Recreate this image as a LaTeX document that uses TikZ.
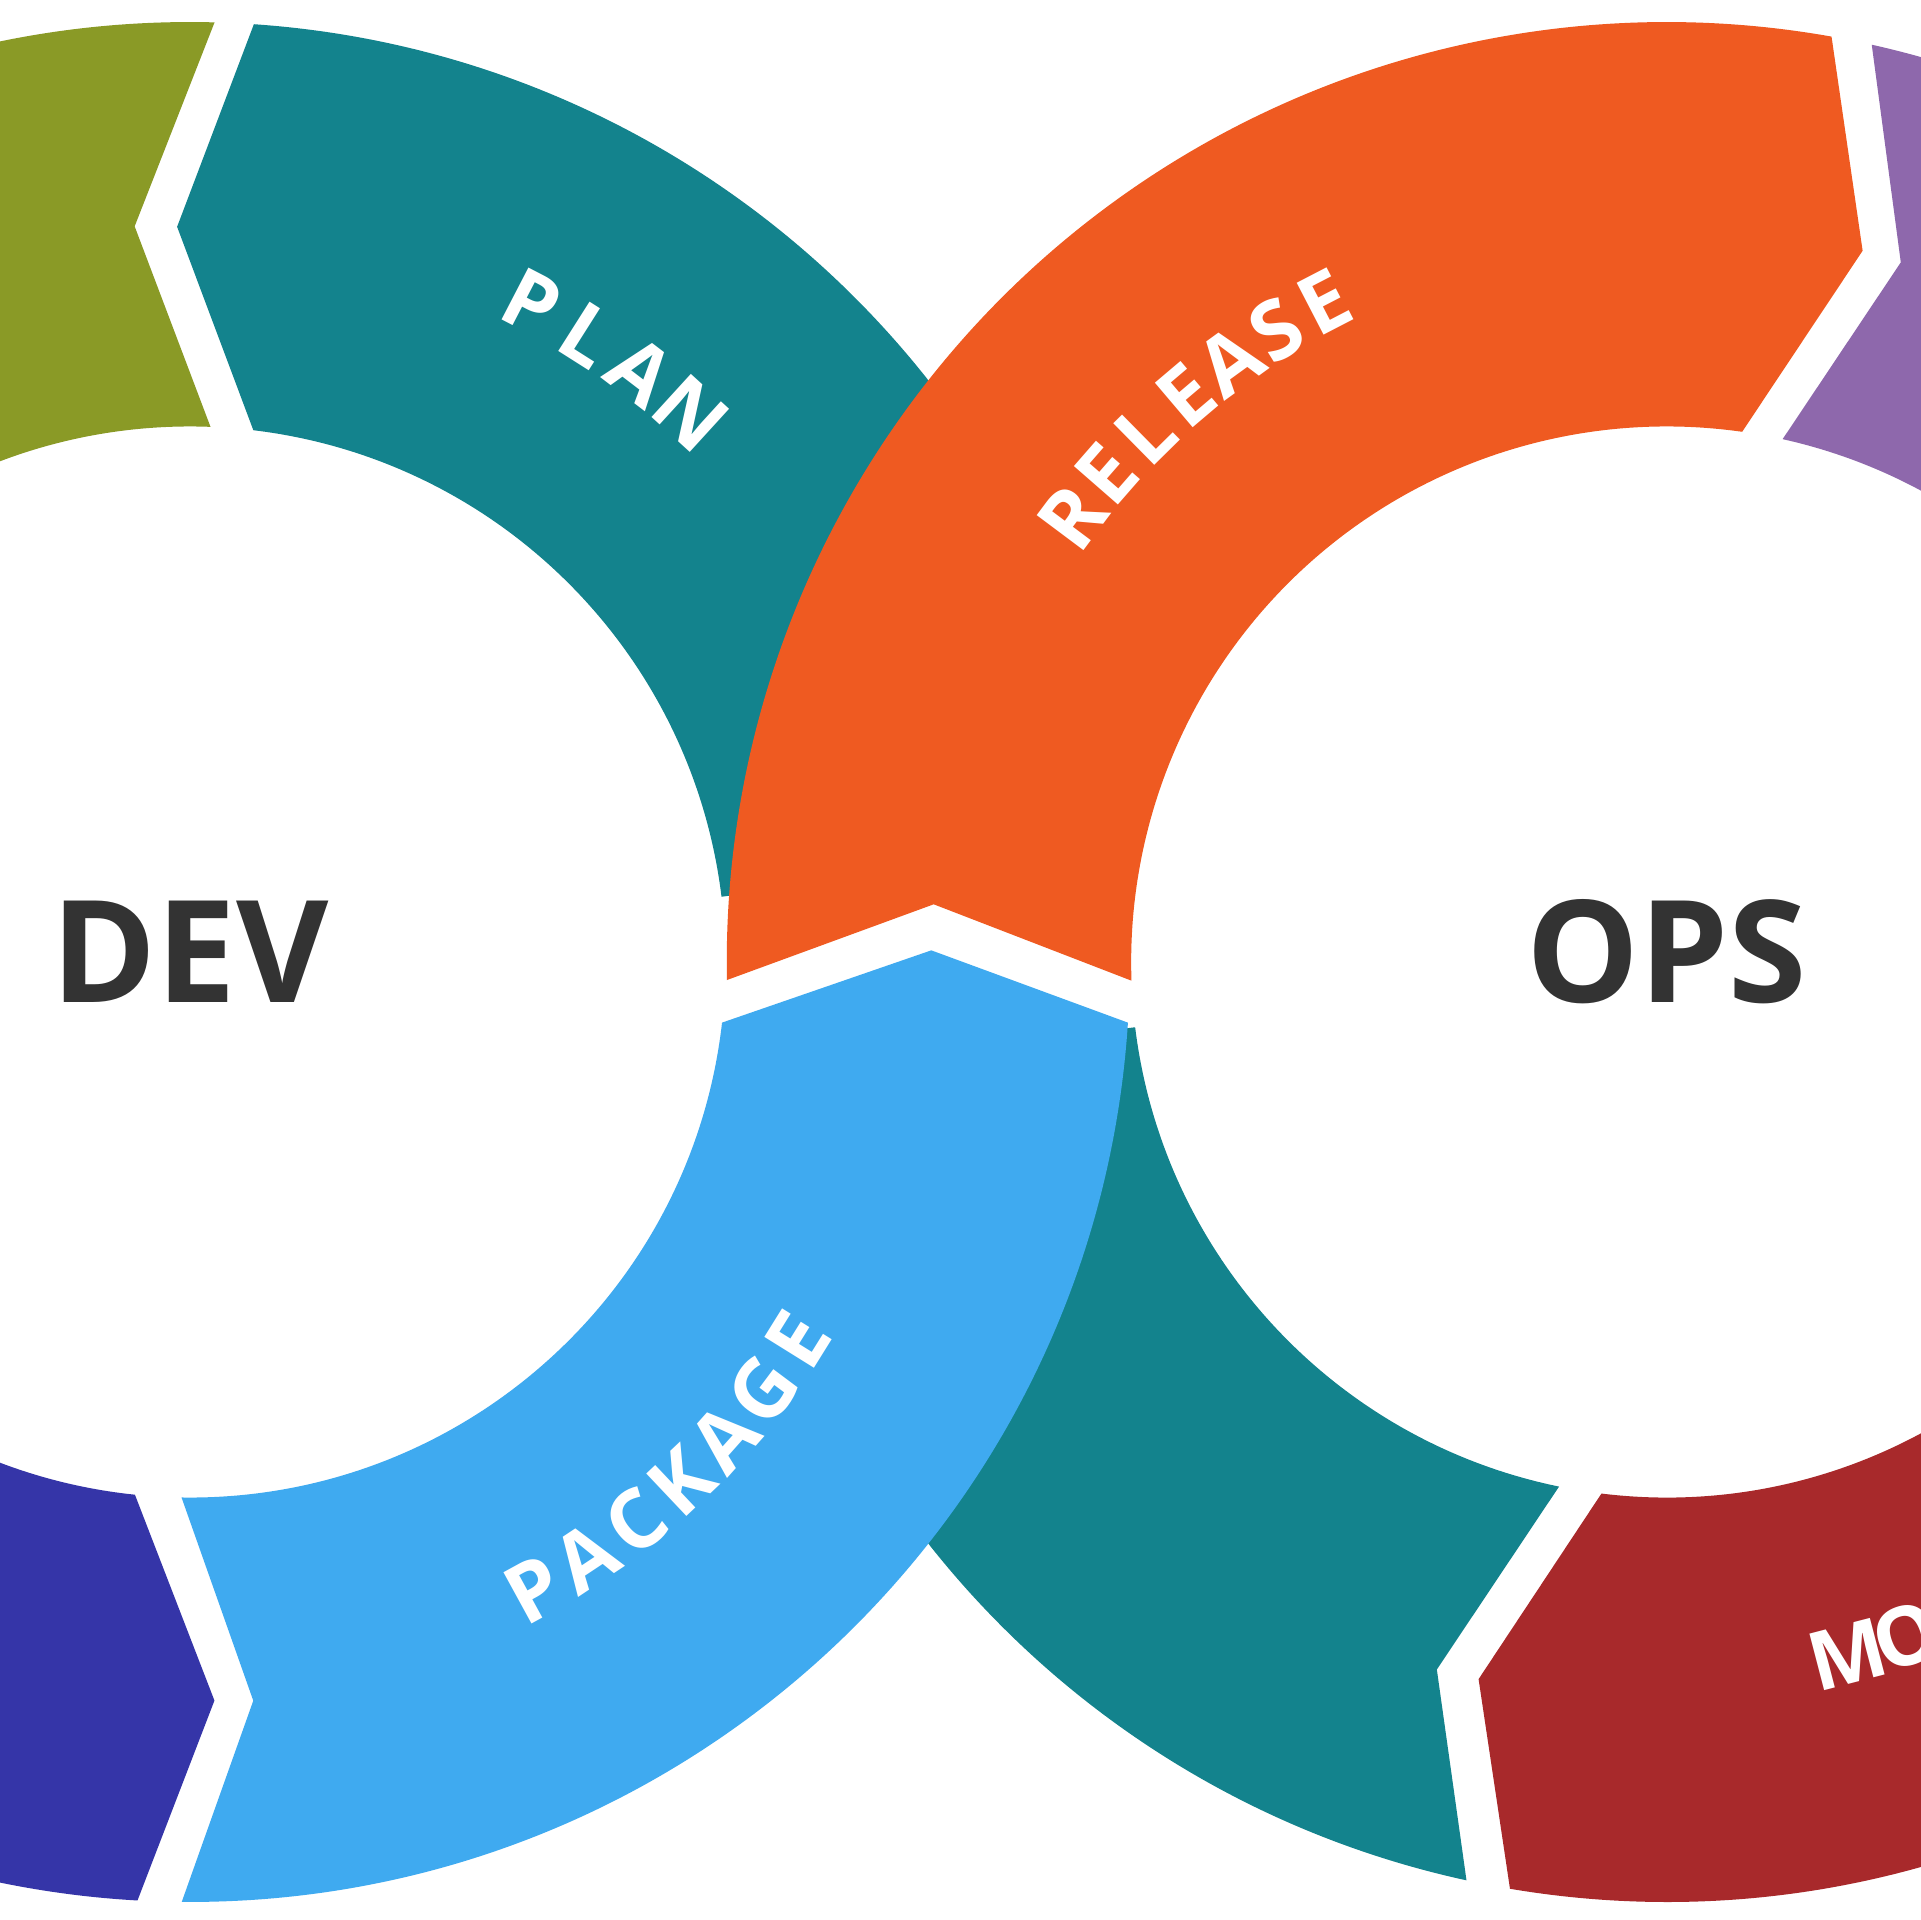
\documentclass[tikz,border=0pt]{standalone}
\usepackage{fontspec}
\setmainfont{Open Sans}
\definecolor{olive}{HTML}{8A9A26}
\definecolor{tealc}{HTML}{13838D}
\definecolor{orangec}{HTML}{EF5A21}
\definecolor{purplec}{HTML}{8E68AC}
\definecolor{bluec}{HTML}{3FAAF0}
\definecolor{indigoc}{HTML}{3535A8}
\definecolor{redc}{HTML}{A8292B}
\definecolor{darkt}{HTML}{333333}
\begin{document}
\begin{tikzpicture}[
  lab/.style={text=white,font=\fontsize{19}{19}\selectfont\bfseries,inner sep=0pt,text height=0.72em,text depth=0pt,anchor=center},
  big/.style={text=darkt,font=\fontsize{33}{33}\selectfont\bfseries,inner sep=0pt,text height=0.72em,text depth=0pt,anchor=center}]
\useasboundingbox (0,3.533) rectangle (15.667,19.2);
\begin{scope}[overlay]
\fill[white] (0,0) rectangle (19.2,19.2);
\clip (0,0) rectangle (19.2,19.2);
% left ring
\begin{scope}[shift={(1.55,11.35)}]
\fill[olive] (88.5:7.67) -- (94.3:6.02) -- (87.8:4.37) arc[start angle=87.8,end angle=150,radius=4.37] -- (150:7.67) arc[start angle=150,end angle=88.5,radius=7.67] -- cycle;
\fill[indigoc] (-93.2:7.67) -- (-88.1:6.03) -- (-95.9:4.37) arc[start angle=-95.9,end angle=-150,radius=4.37] -- (-150:7.67) arc[start angle=-150,end angle=-93.2,radius=7.67] -- cycle;
\fill[tealc] (86.1:7.67) arc[start angle=86.1,end angle=7,radius=7.67] -- (7:4.37) arc[start angle=7,end angle=83.2,radius=4.37] -- (91:6.00) -- cycle;
\end{scope}
% right ring
\begin{scope}[shift={(13.6,11.35)}]
\fill[tealc] (187:7.67) arc[start angle=187,end angle=257.7,radius=7.67] -- (252:6.07) -- (258.4:4.37) arc[start angle=258.4,end angle=187,radius=4.37] -- cycle;
\fill[redc] (260.4:7.67) -- (255.3:6.05) -- (263:4.37) arc[start angle=263,end angle=340,radius=4.37] -- (340:7.67) arc[start angle=340,end angle=260.4,radius=7.67] -- cycle;
\fill[purplec] (77.4:7.67) -- (71.5:6.02) -- (77.5:4.37) arc[start angle=77.5,end angle=20,radius=4.37] -- (20:7.67) arc[start angle=20,end angle=77.4,radius=7.67] -- cycle;
\fill[orangec] (181.1:7.67) arc[start angle=181.1,end angle=79.9,radius=7.67] -- (74.6:6.02) -- (81.9:4.37) arc[start angle=81.9,end angle=182,radius=4.37] -- (175.5:6.00) -- cycle;
\end{scope}
\begin{scope}[shift={(1.55,11.35)}]
\fill[bluec] (-3.7:7.67) arc[start angle=-3.7,end angle=-90.5,radius=7.67] -- (-85.1:6.05) -- (-90.9:4.37) arc[start angle=-90.9,end angle=-6.5,radius=4.37] -- (0.9:6.05) -- cycle;
\foreach \ch [count=\i from 0] in {P,L,A,N}
  \node[lab,rotate={62.6-5.0*\i-90}] (plan\i) at ({62.6-5.0*\i}:5.95) {\ch};
\foreach \ch [count=\i from 0] in {P,A,C,K,A,G,E}
  \node[lab,rotate={-61.3+4.9*\i+90}] (pack\i) at ({-61.3+4.9*\i}:5.95) {\ch};
\node[big] (dev) at (0,-0.2) {DEV};
\end{scope}
\begin{scope}[shift={(13.6,11.35)}]
\foreach \ch [count=\i from 0] in {R,E,L,E,A,S,E}
  \node[lab,rotate={143.2-4.3*\i-90}] (rel\i) at ({143.2-4.3*\i}:5.95) {\ch};
\foreach \ch [count=\i from 0] in {M,O}
  \node[lab,rotate={-75.4+5.0*\i+90}] (mon\i) at ({-75.4+5.0*\i}:5.95) {\ch};
\node[big] (ops) at (0,-0.2) {OPS};
\end{scope}
\end{scope}
\end{tikzpicture}
\end{document}
